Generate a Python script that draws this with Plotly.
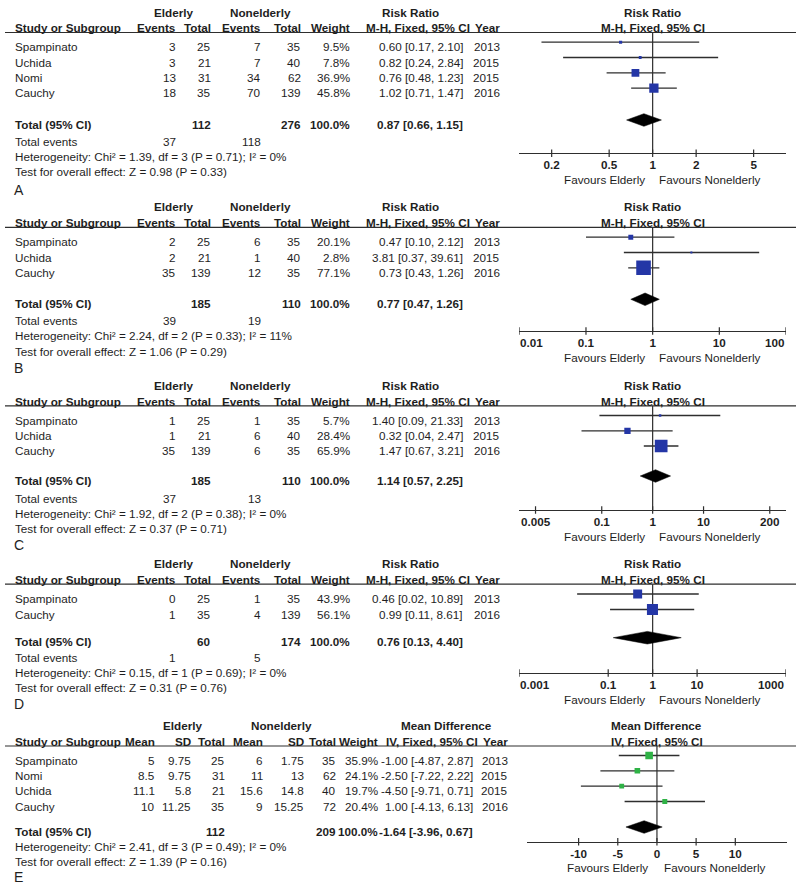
import math
import plotly.graph_objects as go

W, H = 800, 884
FONT = "Liberation Sans, Arial, Helvetica, sans-serif"
FS = 11.7
TXT = "#1e1e1e"
LINE = "#2e2e2e"
BLUE = "#2436a6"
GREEN = "#2fb246"

# ---------------- DATA ----------------
# Panel A
A_study = ["Spampinato", "Uchida", "Nomi", "Cauchy"]
A_ev_e = [3, 3, 13, 18]
A_tot_e = [25, 21, 31, 35]
A_ev_n = [7, 7, 34, 70]
A_tot_n = [35, 40, 62, 139]
A_weight = [9.5, 7.8, 36.9, 45.8]
A_rr = [0.60, 0.82, 0.76, 1.02]
A_lo = [0.17, 0.24, 0.48, 0.71]
A_hi = [2.10, 2.84, 1.23, 1.47]
A_year = [2013, 2015, 2015, 2016]
A_totals = [112, 276]
A_pooled = [0.87, 0.66, 1.15]
A_events = [37, 118]
A_het = "Heterogeneity: Chi² = 1.39, df = 3 (P = 0.71); I² = 0%"
A_test = "Test for overall effect: Z = 0.98 (P = 0.33)"
A_ticks = [0.2, 0.5, 1, 2, 5]
A_ticktext = ["0.2", "0.5", "1", "2", "5"]

# Panel B
B_study = ["Spampinato", "Uchida", "Cauchy"]
B_ev_e = [2, 2, 35]
B_tot_e = [25, 21, 139]
B_ev_n = [6, 1, 12]
B_tot_n = [35, 40, 35]
B_weight = [20.1, 2.8, 77.1]
B_rr = [0.47, 3.81, 0.73]
B_lo = [0.10, 0.37, 0.43]
B_hi = [2.12, 39.61, 1.26]
B_year = [2013, 2015, 2016]
B_totals = [185, 110]
B_pooled = [0.77, 0.47, 1.26]
B_events = [39, 19]
B_het = "Heterogeneity: Chi² = 2.24, df = 2 (P = 0.33); I² = 11%"
B_test = "Test for overall effect: Z = 1.06 (P = 0.29)"
B_ticks = [0.01, 0.1, 1, 10, 100]
B_ticktext = ["0.01", "0.1", "1", "10", "100"]

# Panel C
C_study = ["Spampinato", "Uchida", "Cauchy"]
C_ev_e = [1, 1, 35]
C_tot_e = [25, 21, 139]
C_ev_n = [1, 6, 6]
C_tot_n = [35, 40, 35]
C_weight = [5.7, 28.4, 65.9]
C_rr = [1.40, 0.32, 1.47]
C_lo = [0.09, 0.04, 0.67]
C_hi = [21.33, 2.47, 3.21]
C_year = [2013, 2015, 2016]
C_totals = [185, 110]
C_pooled = [1.14, 0.57, 2.25]
C_events = [37, 13]
C_het = "Heterogeneity: Chi² = 1.92, df = 2 (P = 0.38); I² = 0%"
C_test = "Test for overall effect: Z = 0.37 (P = 0.71)"
C_ticks = [0.005, 0.1, 1, 10, 200]
C_ticktext = ["0.005", "0.1", "1", "10", "200"]

# Panel D
D_study = ["Spampinato", "Cauchy"]
D_ev_e = [0, 1]
D_tot_e = [25, 35]
D_ev_n = [1, 4]
D_tot_n = [35, 139]
D_weight = [43.9, 56.1]
D_rr = [0.46, 0.99]
D_lo = [0.02, 0.11]
D_hi = [10.89, 8.61]
D_year = [2013, 2016]
D_totals = [60, 174]
D_pooled = [0.76, 0.13, 4.40]
D_events = [1, 5]
D_het = "Heterogeneity: Chi² = 0.15, df = 1 (P = 0.69); I² = 0%"
D_test = "Test for overall effect: Z = 0.31 (P = 0.76)"
D_ticks = [0.001, 0.1, 1, 10, 1000]
D_ticktext = ["0.001", "0.1", "1", "10", "1000"]

# Panel E (mean difference)
E_study = ["Spampinato", "Nomi", "Uchida", "Cauchy"]
E_mean_e = [5, 8.5, 11.1, 10]
E_sd_e = [9.75, 9.75, 5.8, 11.25]
E_tot_e = [25, 31, 21, 35]
E_mean_n = [6, 11, 15.6, 9]
E_sd_n = [1.75, 13, 14.8, 15.25]
E_tot_n = [35, 62, 40, 72]
E_weight = [35.9, 24.1, 19.7, 20.4]
E_md = [-1.00, -2.50, -4.50, 1.00]
E_lo = [-4.87, -7.22, -9.71, -4.13]
E_hi = [2.87, 2.22, 0.71, 6.13]
E_year = [2013, 2015, 2015, 2016]
E_totals = [112, 209]
E_pooled = [-1.64, -3.96, 0.67]
E_het = "Heterogeneity: Chi² = 2.41, df = 3 (P = 0.49); I² = 0%"
E_test = "Test for overall effect: Z = 1.39 (P = 0.16)"
E_ticks = [-10, -5, 0, 5, 10]
E_ticktext = ["-10", "-5", "0", "5", "10"]

# ---------------- LAYOUT GEOMETRY (pixels) ----------------
GEO = {
    "A": dict(line=32.5, rows=[46.7, 62.0, 77.3, 92.6], total=124, events=141, het=156.5, test=171.5,
              axis=153.3, label=190, rng=[-0.923, 0.923], label_txt="A"),
    "B": dict(line=227.3, rows=[241.7, 257.0, 272.3], total=303.3, events=320, het=335.5, test=351,
              axis=331, label=368, rng=[-2, 2], label_txt="B"),
    "C": dict(line=405.8, rows=[420.0, 435.3, 450.5], total=480, events=498, het=513.3, test=528.5,
              axis=510, label=545, rng=[-2.62, 2.62], label_txt="C"),
    "D": dict(line=584.2, rows=[598.5, 614.0], total=641.7, events=657, het=672, test=687,
              axis=673, label=704, rng=[-3, 3], label_txt="D"),
    "E": dict(line=746, rows=[760.0, 775.3, 790.6, 806.0], total=831, het=846, test=861,
              axis=841.7, label=877, rng=[-16.55, 16.6], label_txt="E"),
}
RR_DOMAIN = [519.3, 786.0]
E_DOMAIN = [527.3, 787.0]
COLS_RR = dict(study=13.3, ev_e=178.3, tot_e=213.3, ev_n=263.3, tot_n=302.7, weight=352.3, ci=465, year=501.7,
               h_elderly=173, h_non=260, h_eff=410.5, h_method=418)
COLS_E = dict(study=13.3, m_e=156.7, sd_e=193.3, tot_e=226.7, m_n=265, sd_n=306, tot_n=337.5, weight=380,
              ci=474.5, year=510, h_elderly=182, h_non=281, h_eff=446, h_method=432)

anns, shapes, traces, axes = [], [], [], {}


def txt(x, y, s, anchor="left", bold=False, size=FS, xref="paper", xshift=0):
    anns.append(dict(x=x / W if xref == "paper" else x, y=y, xref=xref, yref="y",
                     text=f"<b>{s}</b>" if bold else s, showarrow=False,
                     xanchor=anchor, yanchor="middle", xshift=xshift,
                     font=dict(family=FONT, size=size, color=TXT)))


def add_axis(idx, dom, rng, axis_y, tickvals, ticktext, log):
    name = "xaxis" if idx == 1 else f"xaxis{idx}"
    xname = "x" if idx == 1 else f"x{idx}"
    axes[name] = dict(domain=[dom[0] / W, dom[1] / W], range=rng, type="log" if log else "linear",
                      anchor="free", position=1 - axis_y / H, showline=True, linecolor=LINE, linewidth=1.2,
                      ticks="", ticklabelstandoff=1,
                      tickvals=tickvals, ticktext=[f"<b>{t}</b>" if t else "" for t in ticktext],
                      tickfont=dict(family=FONT, size=FS, color=TXT),
                      showgrid=False, zeroline=False, fixedrange=True)
    # tick marks crossing the axis line (drawn through the axis scale)
    tx, ty = [], []
    for t in tickvals:
        tx += [t, t, None]
        ty += [axis_y - 3.8, axis_y + 3.8, None]
    traces.append(go.Scatter(x=tx, y=ty, mode="lines", line=dict(color=LINE, width=1.2),
                             xaxis=xname, yaxis="y", hoverinfo="skip", showlegend=False, cliponaxis=False))


def forest(xname, G, est, lo, hi, weight, pooled, color, null):
    ys = [y - 4.5 for y in G["rows"]]
    traces.append(go.Scatter(x=[null, null], y=[G["line"], G["axis"]], mode="lines",
                             line=dict(color=LINE, width=1.2), xaxis=xname, yaxis="y",
                             hoverinfo="skip", showlegend=False))
    cx, cy = [], []
    for l, h, y in zip(lo, hi, ys):
        cx += [l, h, None]
        cy += [y, y, None]
    traces.append(go.Scatter(x=cx, y=cy, mode="lines", line=dict(color=LINE, width=1.3),
                             xaxis=xname, yaxis="y", hoverinfo="skip", showlegend=False))
    traces.append(go.Scatter(x=est, y=ys, mode="markers",
                             marker=dict(symbol="square", color=color, opacity=1,
                                         size=[1.5 + 0.17 * w for w in weight],
                                         line=dict(width=0)),
                             xaxis=xname, yaxis="y", hoverinfo="skip", showlegend=False))
    yd = G["total"] - 4
    p, pl, ph = pooled
    traces.append(go.Scatter(x=[pl, p, ph, p, pl], y=[yd, yd - 6.3, yd, yd + 6.3, yd], mode="lines",
                             fill="toself", fillcolor="#000000", line=dict(color="#000000", width=0.5),
                             xaxis=xname, yaxis="y", hoverinfo="skip", showlegend=False))


def rr_panel(idx, key, study, ev_e, tot_e, ev_n, tot_n, weight, rr, lo, hi, year, totals, pooled,
             events, het, test, ticks, ticktext):
    G = GEO[key]
    c = COLS_RR
    xname = "x" if idx == 1 else f"x{idx}"
    h1, h2 = G["line"] - 20.5, G["line"] - 4.8
    txt(c["h_elderly"], h1, "Elderly", "center", True)
    txt(c["h_non"], h1, "Nonelderly", "center", True)
    txt(c["h_eff"], h1, "Risk Ratio", "center", True)
    txt(c["study"], h2, "Study or Subgroup", "left", True)
    txt(c["ev_e"], h2, "Events", "right", True)
    txt(c["tot_e"], h2, "Total", "right", True)
    txt(c["ev_n"], h2, "Events", "right", True)
    txt(c["tot_n"], h2, "Total", "right", True)
    txt(c["weight"], h2, "Weight", "right", True)
    txt(c["h_method"], h2, "M-H, Fixed, 95% CI", "center", True)
    txt(c["year"], h2, "Year", "right", True)
    shapes.append(dict(type="line", xref="paper", yref="y", x0=5 / W, x1=796 / W, y0=G["line"], y1=G["line"],
                       line=dict(color=LINE, width=1.2)))
    for i, y in enumerate(G["rows"]):
        txt(c["study"], y, study[i])
        txt(c["ev_e"], y, str(ev_e[i]), "right")
        txt(c["tot_e"], y, str(tot_e[i]), "right")
        txt(c["ev_n"], y, str(ev_n[i]), "right")
        txt(c["tot_n"], y, str(tot_n[i]), "right")
        txt(c["weight"], y, f"{weight[i]:.1f}%", "right")
        txt(c["ci"], y, f"{rr[i]:.2f} [{lo[i]:.2f}, {hi[i]:.2f}]", "right")
        txt(c["year"], y, str(year[i]), "right")
    y = G["total"]
    txt(c["study"], y, "Total (95% CI)", "left", True)
    txt(c["tot_e"], y, str(totals[0]), "right", True)
    txt(c["tot_n"], y, str(totals[1]), "right", True)
    txt(c["weight"], y, f"{100:.1f}%", "right", True)
    txt(c["ci"], y, f"{pooled[0]:.2f} [{pooled[1]:.2f}, {pooled[2]:.2f}]", "right", True)
    txt(c["study"], G["events"], "Total events")
    txt(c["ev_e"], G["events"], str(events[0]), "right")
    txt(c["ev_n"], G["events"], str(events[1]), "right")
    txt(c["study"], G["het"], het)
    txt(c["study"], G["test"], test)
    txt(12, G["label"], G["label_txt"], "left", False, 14)
    txt(0, h1, "Risk Ratio", "center", True, xref=xname)
    txt(0, h2, "M-H, Fixed, 95% CI", "center", True, xref=xname)
    txt(0, G["axis"] + 26.5, "Favours Elderly", "right", xref=xname, xshift=-6)
    txt(0, G["axis"] + 26.5, "Favours Nonelderly", "left", xref=xname, xshift=4)
    tt = list(ticktext)
    if key in ("B", "D"):
        txt(math.log10(ticks[0]), G["axis"] + 11.7, f"<b>{ticktext[0]}</b>", "left", xref=xname, xshift=-1)
        txt(math.log10(ticks[-1]), G["axis"] + 11.7, f"<b>{ticktext[-1]}</b>", "right", xref=xname, xshift=1)
        tt[0] = ""
        tt[-1] = ""
    add_axis(idx, RR_DOMAIN, G["rng"], G["axis"], ticks, tt, True)
    forest(xname, G, rr, lo, hi, weight, pooled, BLUE, 1)


rr_panel(1, "A", A_study, A_ev_e, A_tot_e, A_ev_n, A_tot_n, A_weight, A_rr, A_lo, A_hi, A_year,
         A_totals, A_pooled, A_events, A_het, A_test, A_ticks, A_ticktext)
rr_panel(2, "B", B_study, B_ev_e, B_tot_e, B_ev_n, B_tot_n, B_weight, B_rr, B_lo, B_hi, B_year,
         B_totals, B_pooled, B_events, B_het, B_test, B_ticks, B_ticktext)
rr_panel(3, "C", C_study, C_ev_e, C_tot_e, C_ev_n, C_tot_n, C_weight, C_rr, C_lo, C_hi, C_year,
         C_totals, C_pooled, C_events, C_het, C_test, C_ticks, C_ticktext)
rr_panel(4, "D", D_study, D_ev_e, D_tot_e, D_ev_n, D_tot_n, D_weight, D_rr, D_lo, D_hi, D_year,
         D_totals, D_pooled, D_events, D_het, D_test, D_ticks, D_ticktext)

# ---- Panel E ----
G = GEO["E"]
c = COLS_E
h1, h2 = G["line"] - 20.5, G["line"] - 4.8
txt(c["h_elderly"], h1, "Elderly", "center", True)
txt(c["h_non"], h1, "Nonelderly", "center", True)
txt(c["h_eff"], h1, "Mean Difference", "center", True)
txt(c["study"], h2, "Study or Subgroup", "left", True)
for k, lab in [("m_e", "Mean"), ("sd_e", "SD"), ("tot_e", "Total"), ("m_n", "Mean"), ("sd_n", "SD"),
               ("tot_n", "Total"), ("weight", "Weight"), ("year", "Year")]:
    txt(c[k], h2, lab, "right", True)
txt(c["h_method"], h2, "IV, Fixed, 95% CI", "center", True)
shapes.append(dict(type="line", xref="paper", yref="y", x0=5 / W, x1=796 / W, y0=G["line"], y1=G["line"],
                   line=dict(color=LINE, width=1.2)))
for i, y in enumerate(G["rows"]):
    txt(c["study"], y, E_study[i])
    txt(c["m_e"], y, f"{E_mean_e[i]:g}", "right")
    txt(c["sd_e"], y, f"{E_sd_e[i]:g}", "right")
    txt(c["tot_e"], y, str(E_tot_e[i]), "right")
    txt(c["m_n"], y, f"{E_mean_n[i]:g}", "right")
    txt(c["sd_n"], y, f"{E_sd_n[i]:g}", "right")
    txt(c["tot_n"], y, str(E_tot_n[i]), "right")
    txt(c["weight"], y, f"{E_weight[i]:.1f}%", "right")
    txt(c["ci"], y, f"{E_md[i]:.2f} [{E_lo[i]:.2f}, {E_hi[i]:.2f}]", "right")
    txt(c["year"], y, str(E_year[i]), "right")
y = G["total"]
txt(c["study"], y, "Total (95% CI)", "left", True)
txt(c["tot_e"], y, str(E_totals[0]), "right", True)
txt(c["tot_n"], y, str(E_totals[1]), "right", True)
txt(c["weight"], y, f"{100:.1f}%", "right", True)
txt(c["ci"], y, f"{E_pooled[0]:.2f} [{E_pooled[1]:.2f}, {E_pooled[2]:.2f}]", "right", True)
txt(c["study"], G["het"], E_het)
txt(c["study"], G["test"], E_test)
txt(12, G["label"], G["label_txt"], "left", False, 14)
txt(0, h1, "Mean Difference", "center", True, xref="x5")
txt(0, h2, "IV, Fixed, 95% CI", "center", True, xref="x5")
txt(0, G["axis"] + 25.5, "Favours Elderly", "right", xref="x5", xshift=-7)
txt(0, G["axis"] + 25.5, "Favours Nonelderly", "left", xref="x5", xshift=5)
add_axis(5, E_DOMAIN, G["rng"], G["axis"], E_ticks, E_ticktext, False)
forest("x5", G, E_md, E_lo, E_hi, E_weight, E_pooled, GREEN, 0)

fig = go.Figure(data=traces)
fig.update_layout(
    width=W, height=H, margin=dict(l=0, r=0, t=0, b=0),
    paper_bgcolor="white", plot_bgcolor="rgba(0,0,0,0)", showlegend=False,
    yaxis=dict(range=[H, 0], domain=[0, 1], visible=False, fixedrange=True),
    annotations=anns, shapes=shapes,
    font=dict(family=FONT, size=FS, color=TXT),
    **axes,
)
fig.write_html("out.html", config={"displayModeBar": False},
               post_script="document.body.style.margin='0px';document.documentElement.style.margin='0px';")
